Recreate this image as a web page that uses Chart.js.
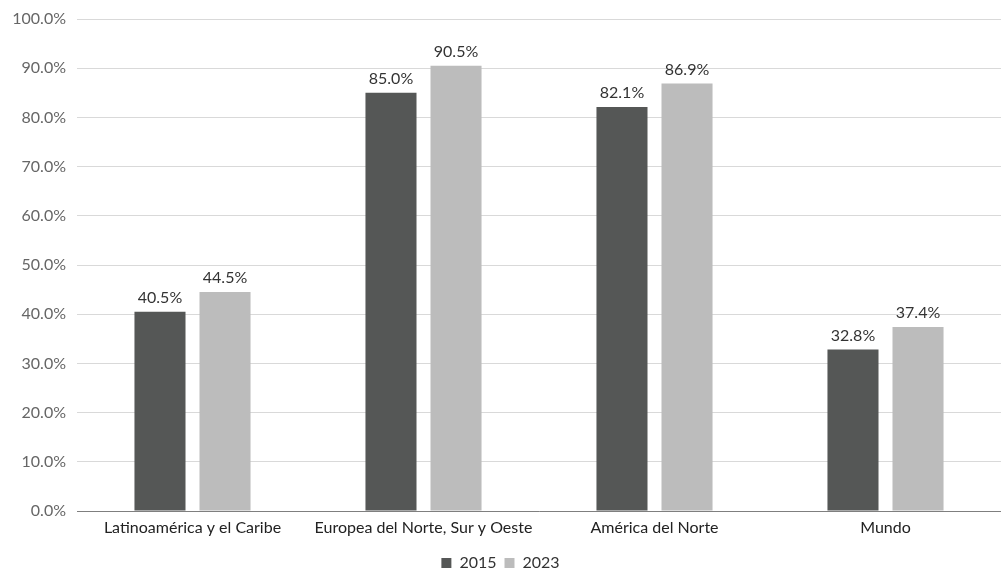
<!DOCTYPE html>
<html>
<head>
<meta charset="utf-8">
<script src="https://cdn.jsdelivr.net/npm/chart.js@4/dist/chart.umd.min.js"></script>
<style>
  html, body { margin: 0; padding: 0; background: #ffffff; }
  #wrap { width: 1001px; height: 571px; }
</style>
</head>
<body>
<div id="wrap"><canvas id="chart"></canvas></div>
<script>
var categories = ['Latinoamérica y el Caribe', 'Europea del Norte, Sur y Oeste', 'América del Norte', 'Mundo'];
var values2015 = [40.5, 85.0, 82.1, 32.8];
var values2023 = [44.5, 90.5, 86.9, 37.4];
var seriesNames = ['2015', '2023'];

var fontFamily = 'Lato, "Open Sans", sans-serif';

// draws the value above each bar
var barLabels = {
  id: 'barLabels',
  afterDatasetsDraw: function(chart) {
    var ctx = chart.ctx;
    ctx.save();
    ctx.font = '16px ' + fontFamily;
    ctx.fillStyle = '#333333';
    ctx.textAlign = 'center';
    ctx.textBaseline = 'bottom';
    chart.data.datasets.forEach(function(ds, i) {
      var meta = chart.getDatasetMeta(i);
      meta.data.forEach(function(bar, j) {
        ctx.fillText(ds.data[j].toFixed(1) + '%', bar.x, bar.y - 6);
      });
    });
    ctx.restore();
  }
};

// make the legend box a bit shorter so it sits closer to the bottom edge
var tightLegend = {
  id: 'tightLegend',
  beforeInit: function(chart) {
    var origFit = chart.legend.fit;
    chart.legend.fit = function() {
      origFit.bind(chart.legend)();
      this.height -= 10;
    };
  }
};

new Chart(document.getElementById('chart'), {
  type: 'bar',
  data: {
    labels: categories,
    datasets: [
      {
        label: seriesNames[0],
        data: values2015,
        backgroundColor: '#555756',
        categoryPercentage: 0.563,
        barPercentage: 0.785
      },
      {
        label: seriesNames[1],
        data: values2023,
        backgroundColor: '#bcbcbc',
        categoryPercentage: 0.563,
        barPercentage: 0.785
      }
    ]
  },
  options: {
    responsive: true,
    maintainAspectRatio: false,
    animation: false,
    layout: { padding: { top: 0, right: 0, left: 0, bottom: 0 } },
    plugins: {
      legend: {
        position: 'bottom',
        labels: {
          boxWidth: 10,
          boxHeight: 10,
          padding: 8,
          color: '#333333',
          font: { family: fontFamily, size: 16 }
        }
      },
      tooltip: { enabled: false }
    },
    scales: {
      x: {
        grid: { display: false, drawTicks: false },
        border: { color: '#7f7f7f', width: 1 },
        ticks: {
          color: '#222222',
          padding: 7,
          font: { family: fontFamily, size: 16 }
        },
        afterFit: function(scale) { scale.height = 36; }
      },
      y: {
        min: 0,
        max: 100,
        grid: { color: '#d9d9d9', drawTicks: false },
        border: { display: false },
        ticks: {
          stepSize: 10,
          color: '#666666',
          padding: 11,
          font: { family: fontFamily, size: 16, lineHeight: 1 },
          callback: function(v) { return v.toFixed(1) + '%'; }
        },
        afterFit: function(scale) { scale.width = 77; }
      }
    }
  },
  plugins: [barLabels, tightLegend]
});
</script>
</body>
</html>
